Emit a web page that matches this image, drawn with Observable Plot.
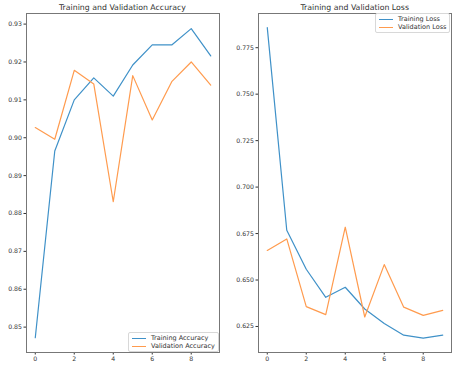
<!DOCTYPE html>
<html>
<head>
<meta charset="utf-8">
<script src="https://cdn.jsdelivr.net/npm/d3@7"></script>
<script src="https://cdn.jsdelivr.net/npm/@observablehq/plot@0.6"></script>
<style>
  body { margin: 0; background: #fff; font-family: "DejaVu Sans", sans-serif; }
  #wrap { position: relative; width: 461px; height: 369px; overflow: hidden; }
  .panel { position: absolute; top: 0; }
  .title { position: absolute; top: 0; font-size: 7.8px; color: #333; text-align: center; white-space: nowrap; line-height: 10px; }
  .legend { position: absolute; background: rgba(255,255,255,0.85); border: 1px solid #d8d8d8; border-radius: 2px; font-size: 6.5px; color: #333; padding: 1px 3px 1px 3px; line-height: 8px; }
  .legend .row { display: flex; align-items: center; white-space: nowrap; }
  .legend .sw { display: inline-block; width: 14px; height: 0; border-top: 1.3px solid; margin-right: 5px; }
</style>
</head>
<body>
<div id="wrap"></div>
<script>
const epochs = [0, 1, 2, 3, 4, 5, 6, 7, 8, 9];
const trainAcc = [0.8472, 0.8965, 0.9100, 0.9158, 0.9110, 0.9192, 0.9245, 0.9245, 0.9288, 0.9216];
const valAcc   = [0.9027, 0.8996, 0.9178, 0.9142, 0.8831, 0.9164, 0.9047, 0.9148, 0.9200, 0.9139];
const trainLoss = [0.7858, 0.6768, 0.6558, 0.6407, 0.6461, 0.6344, 0.6266, 0.6203, 0.6187, 0.6203];
const valLoss   = [0.6659, 0.6721, 0.6357, 0.6314, 0.6784, 0.6301, 0.6583, 0.6354, 0.6310, 0.6337];
const accTicks = [0.85, 0.86, 0.87, 0.88, 0.89, 0.90, 0.91, 0.92, 0.93];
const lossTicks = [0.625, 0.650, 0.675, 0.700, 0.725, 0.750, 0.775];
const xTicks = [0, 2, 4, 6, 8];
const titles = ["Training and Validation Accuracy", "Training and Validation Loss"];
const accLabels = ["Training Accuracy", "Validation Accuracy"];
const lossLabels = ["Training Loss", "Validation Loss"];

const BLUE = "#3f91c8", ORANGE = "#ff9b4e";
const wrap = document.getElementById("wrap");

function makePanel(opts) {
  const {left, width, mLeft, mRight, yDomain, yTicks, yFmt, s1, s2} = opts;
  const data1 = epochs.map((e, i) => ({e, v: s1[i]}));
  const data2 = epochs.map((e, i) => ({e, v: s2[i]}));
  const chart = Plot.plot({
    width, height: 369,
    marginLeft: mLeft, marginRight: mRight, marginTop: 13, marginBottom: 17,
    style: {fontFamily: "DejaVu Sans, sans-serif", fontSize: "6.2px", color: "#333", background: "transparent"},
    x: {domain: [-0.45, 9.45], ticks: xTicks, tickSize: 2.5, tickPadding: 2, tickFormat: d => String(d), label: null},
    y: {domain: yDomain, ticks: yTicks, tickSize: 2.5, tickPadding: 2, tickFormat: yFmt, label: null},
    marks: [
      Plot.line(data1, {x: "e", y: "v", stroke: BLUE, strokeWidth: 1.2}),
      Plot.line(data2, {x: "e", y: "v", stroke: ORANGE, strokeWidth: 1.2}),
      Plot.frame({stroke: "#777", strokeWidth: 1})
    ]
  });
  chart.classList.add("panel");
  chart.style.left = left + "px";
  wrap.appendChild(chart);
}

makePanel({left: 0, width: 230, mLeft: 26, mRight: 11, yDomain: [0.8433, 0.9328], yTicks: accTicks, yFmt: d3.format(".2f"), s1: trainAcc, s2: valAcc});
makePanel({left: 230, width: 231, mLeft: 28, mRight: 10, yDomain: [0.611, 0.7934], yTicks: lossTicks, yFmt: d3.format(".3f"), s1: trainLoss, s2: valLoss});

function addTitle(text, cx) {
  const d = document.createElement("div");
  d.className = "title";
  d.textContent = text;
  wrap.appendChild(d);
  d.style.left = (cx - d.offsetWidth / 2) + "px";
  d.style.top = "2.5px";
}
addTitle(titles[0], 122.5);
addTitle(titles[1], 354.5);

function addLegend(labels, pos) {
  const d = document.createElement("div");
  d.className = "legend";
  [BLUE, ORANGE].forEach((c, i) => {
    const r = document.createElement("div");
    r.className = "row";
    const s = document.createElement("span");
    s.className = "sw"; s.style.borderTopColor = c;
    const t = document.createElement("span");
    t.textContent = labels[i];
    r.appendChild(s); r.appendChild(t);
    d.appendChild(r);
  });
  Object.assign(d.style, pos);
  wrap.appendChild(d);
}
addLegend(accLabels, {left: "128px", top: "332px"});
addLegend(lossLabels, {left: "375px", top: "13px"});
</script>
</body>
</html>
